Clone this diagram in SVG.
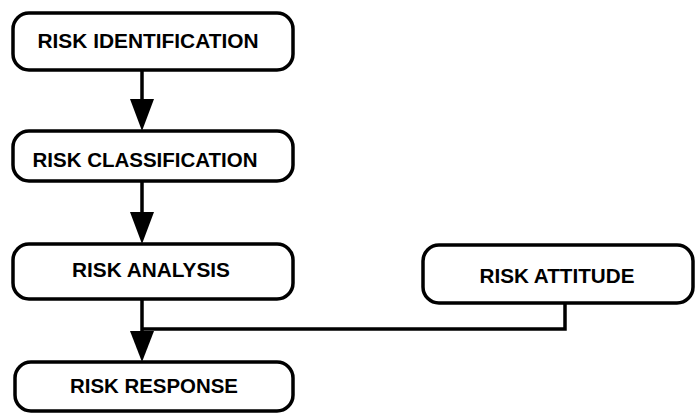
<svg xmlns="http://www.w3.org/2000/svg" width="697" height="414" viewBox="0 0 697 414">
<defs>
<style>
.box{fill:#fff;stroke:#000;stroke-width:3.5}
.lbl{font-family:"Liberation Sans",Arial,sans-serif;font-weight:bold;font-size:20px;fill:#000;text-anchor:middle}
.ln{fill:none;stroke:#000;stroke-width:3.5}
.head{fill:#000}
</style>
</defs>
<rect width="697" height="414" fill="#fff"/>
<g id="risk-identification">
<rect class="box" x="13" y="13" width="280" height="57" rx="16"/>
<text class="lbl" x="148" y="48" textLength="221" lengthAdjust="spacingAndGlyphs">RISK IDENTIFICATION</text>
</g>
<g id="risk-classification">
<rect class="box" x="13" y="131" width="280" height="50" rx="16"/>
<text class="lbl" x="145" y="167" textLength="225" lengthAdjust="spacingAndGlyphs">RISK CLASSIFICATION</text>
</g>
<g id="risk-analysis">
<rect class="box" x="13" y="244" width="280" height="55" rx="16"/>
<text class="lbl" x="151" y="277" textLength="158" lengthAdjust="spacingAndGlyphs">RISK ANALYSIS</text>
</g>
<g id="risk-response">
<rect class="box" x="15" y="362" width="278" height="49" rx="16"/>
<text class="lbl" x="154" y="393" textLength="168" lengthAdjust="spacingAndGlyphs">RISK RESPONSE</text>
</g>
<g id="risk-attitude">
<rect class="box" x="423" y="245" width="270" height="58" rx="16"/>
<text class="lbl" x="557" y="283" textLength="155" lengthAdjust="spacingAndGlyphs">RISK ATTITUDE</text>
</g>
<g id="connectors">
<path class="ln" d="M142,70 L142,102"/>
<path class="head" d="M130,99 L154,99 L142,131 Z"/>
<path class="ln" d="M142,181 L142,215"/>
<path class="head" d="M130,212 L154,212 L142,244 Z"/>
<path class="ln" d="M142,299 L142,334"/>
<path class="head" d="M130,331 L154,331 L142,362 Z"/>
<path class="ln" d="M565,303 L565,329 L142,329"/>
</g>
</svg>
